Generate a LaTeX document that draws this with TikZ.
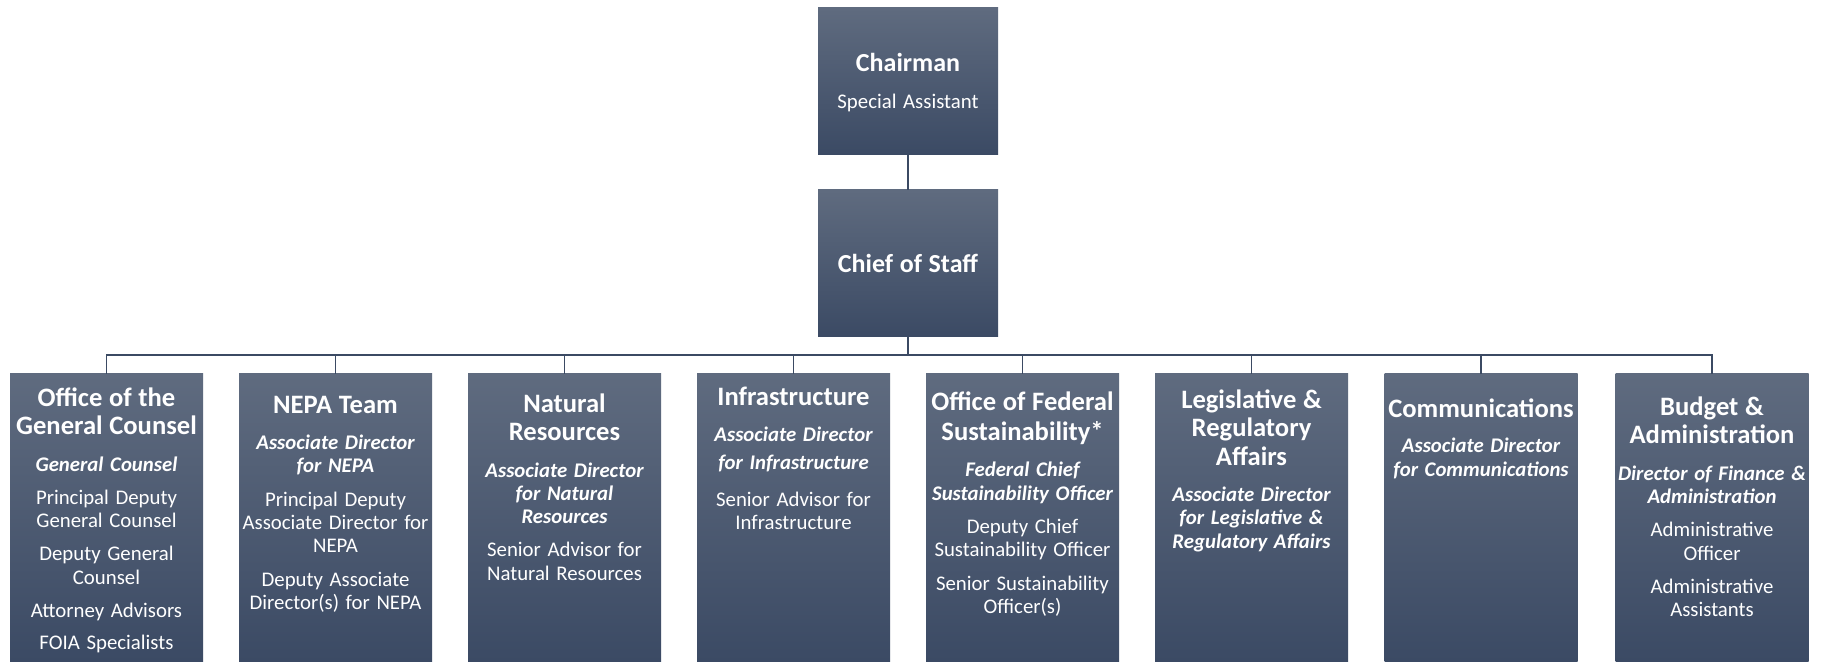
\documentclass[tikz,border=0pt]{standalone}
\usepackage{fontspec}
\setmainfont{Carlito}
\usepackage{xcolor}
\definecolor{boxtop}{HTML}{5F6B7F}
\definecolor{boxbot}{HTML}{3B4A64}
\definecolor{wirecol}{HTML}{3B4A63}
\newcommand{\headttl}{\fontsize{13}{14}\selectfont\bfseries}
\newcommand{\headreg}{\fontsize{10.4}{12.5}\selectfont}
\newcommand{\deptttl}{\fontsize{13.3}{14.25}\selectfont\bfseries}
\newcommand{\deptsub}{\fontsize{10.4}{11.65}\selectfont\bfseries\itshape}
\newcommand{\deptreg}{\fontsize{10.4}{11.65}\selectfont}

\begin{document}
\begin{tikzpicture}[scale=1.000000,x=0.5pt,y=0.5pt,
  orgbox/.style={rectangle,draw=none,top color=boxtop,bottom color=boxbot,inner sep=0pt},
  headbox/.style={orgbox,minimum width=90pt,minimum height=73.5pt},
  deptbox/.style={orgbox,minimum width=96.5pt,minimum height=144pt},
  depttext/.style={anchor=north,text width=98pt,align=center,inner sep=0pt,text=white},
  link/.style={draw=wirecol,line width=0.7pt}]
\fill[color=white] (0.000000, 0.000000) rectangle (1823.000000, 662.000000);
% Drawing head boxes
% Line 1: Chairman
\node[headbox] (chair) at (908.000000, 580.500000) {};
\node[depttext] (chairtxt) at (908.000000, 611.300000) {{\headttl\rule{0pt}{10pt}Chairman\par}\vspace{6.3pt}{\headreg Special Assistant\par}};
% Line 2: Chief of Staff
\node[headbox] (chief) at (908.000000, 398.500000) {};
\node[depttext] (chieftxt) at (908.000000, 410.300000) {{\headttl\rule{0pt}{10pt}Chief of Staff\par}};
% Done with head boxes; drawing department boxes
% Line 3: Office of the General Counsel
\node[deptbox] (ogc) at (106.500000, 144.000000) {};
\node[depttext] (ogctxt) at (106.500000, 276.300000) {%
  {\deptttl\rule{0pt}{10pt}Office of the\\General Counsel\par}\vspace{6.6pt}
  {\deptsub General Counsel\par}\vspace{5pt}
  {\deptreg Principal Deputy\\General Counsel\par}\vspace{5pt}
  {\deptreg Deputy General\\Counsel\par}\vspace{5pt}
  {\deptreg Attorney Advisors\par}\vspace{4.2pt}
  {\deptreg FOIA Specialists\par}};
% Line 4: NEPA Team
\node[deptbox] (nepa) at (335.500000, 144.000000) {};
\node[depttext] (nepatxt) at (335.500000, 269.300000) {%
  {\deptttl\rule{0pt}{10pt}NEPA Team\par}\vspace{6.6pt}
  {\deptsub Associate Director\\for NEPA\par}\vspace{5pt}
  {\deptreg Principal Deputy\\Associate Director for\\NEPA\par}\vspace{5pt}
  {\deptreg Deputy Associate\\Director(s) for NEPA\par}};
% Line 5: Natural Resources
\node[deptbox] (natres) at (564.500000, 144.000000) {};
\node[depttext] (natrestxt) at (564.500000, 270.300000) {%
  {\deptttl\rule{0pt}{10pt}Natural\\Resources\par}\vspace{6.6pt}
  {\deptsub Associate Director\\for Natural\\Resources\par}\vspace{5pt}
  {\deptreg Senior Advisor for\\Natural Resources\par}};
% Line 6: Infrastructure
\node[deptbox] (infra) at (793.500000, 144.000000) {};
\node[depttext] (infratxt) at (793.500000, 277.000000) {%
  {\deptttl\rule{0pt}{10pt}Infrastructure\par}\vspace{6.6pt}
  {\deptsub Associate Director\\[2.2pt]for Infrastructure\par}\vspace{6.7pt}
  {\deptreg Senior Advisor for\\Infrastructure\par}};
% Line 7: Office of Federal Sustainability
\node[deptbox] (ofs) at (1022.500000, 144.000000) {};
\node[depttext] (ofstxt) at (1022.500000, 272.000000) {%
  {\deptttl\rule{0pt}{10pt}Office of Federal\\[0.8pt]Sustainability*\par}\vspace{6.6pt}
  {\deptsub Federal Chief\\Sustainability Officer\par}\vspace{5pt}
  {\deptreg Deputy Chief\\Sustainability Officer\par}\vspace{5pt}
  {\deptreg Senior Sustainability\\Officer(s)\par}};
% Line 8: Legislative & Regulatory Affairs
\node[deptbox] (leg) at (1251.500000, 144.000000) {};
\node[depttext] (legtxt) at (1251.500000, 274.300000) {%
  {\deptttl\rule{0pt}{10pt}Legislative \&\\Regulatory\\Affairs\par}\vspace{6.6pt}
  {\deptsub Associate Director\\for Legislative \&\\Regulatory Affairs\par}};
% Line 9: Communications
\node[deptbox] (comms) at (1481.000000, 144.000000) {};
\node[depttext] (commstxt) at (1481.000000, 264.700000) {%
  {\deptttl\rule{0pt}{10pt}Communications\par}\vspace{6pt}
  {\deptsub Associate Director\\for Communications\par}};
% Line 10: Budget & Administration
\node[deptbox] (budget) at (1712.000000, 144.000000) {};
\node[depttext] (budgettxt) at (1712.000000, 267.000000) {%
  {\deptttl\rule{0pt}{10pt}Budget \&\\Administration\par}\vspace{6.6pt}
  {\deptsub Director of Finance \&\\Administration\par}\vspace{5pt}
  {\deptreg Administrative\\Officer\par}\vspace{5pt}
  {\deptreg Administrative\\Assistants\par}};
% Done with department boxes; drawing connectors
\coordinate (bar) at (908.000000, 307.000000);
\draw[link,line width=1.3pt] (chair.south) -- (chief.north);
\draw[link] (chief.south) -- (bar);
\foreach \dept in {ogc,nepa,natres,infra,ofs,leg,comms,budget}
  \draw[link] (bar) -| (\dept.north);
% Done with connectors
\end{tikzpicture}
\end{document}
